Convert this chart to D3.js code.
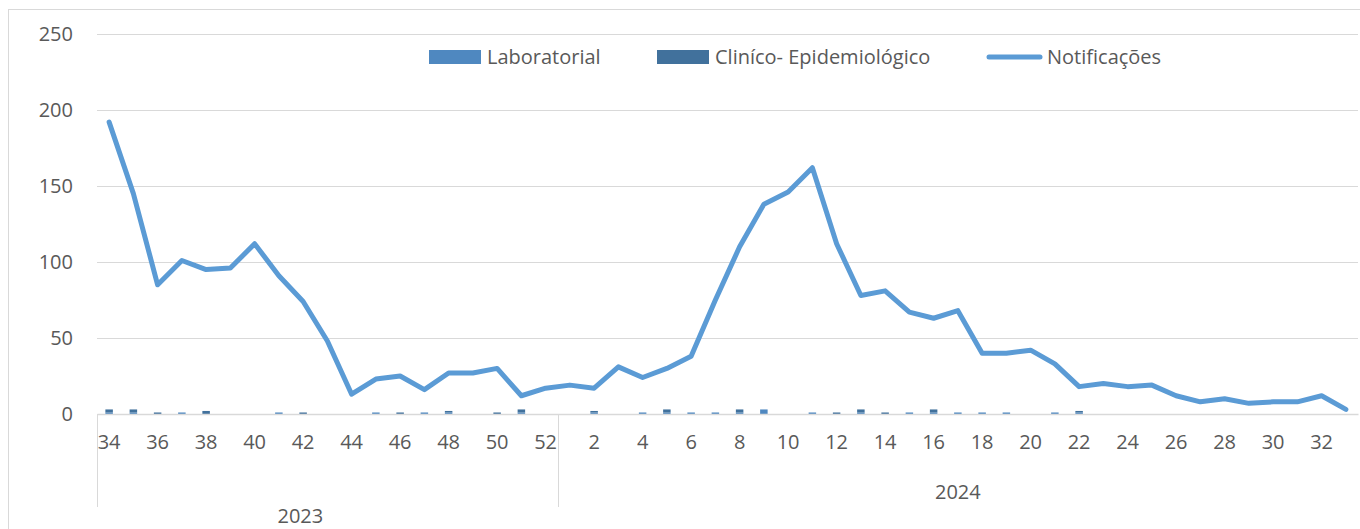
<!DOCTYPE html>
<html>
<head>
<meta charset="utf-8">
<script src="https://cdn.jsdelivr.net/npm/d3@7"></script>
<style>
  body { margin: 0; background: #fff; }
  svg text { font-family: "Open Sans", sans-serif; fill: #595959; }
</style>
</head>
<body>
<div id="chart"></div>
<script>
// epidemiological weeks: 2023 w34..w52 then 2024 w1..w33
const weeks2023 = [34,35,36,37,38,39,40,41,42,43,44,45,46,47,48,49,50,51,52];
const weeks2024 = [1,2,3,4,5,6,7,8,9,10,11,12,13,14,15,16,17,18,19,20,21,22,23,24,25,26,27,28,29,30,31,32,33];
const years = ["2023", "2024"];

const notificacoes = [
  192,145,85,101,95,96,112,91,74,48,13,23,25,16,27,27,30,12,17,
  19,17,31,24,30,38,75,110,138,146,162,112,78,81,67,63,68,40,40,42,33,18,20,18,19,12,8,10,7,8,8,12,3
];
const laboratorial = [
  1,1,0,1,0,0,0,1,0,0,0,1,0,1,1,0,0,1,0,
  0,1,0,1,1,1,1,1,3,0,1,0,1,0,1,1,1,1,1,0,1,1,0,0,0,0,0,0,0,0,0,0,0
];
const clinico = [
  2,2,1,0,2,0,0,0,1,0,0,0,1,0,1,0,1,2,0,
  0,1,0,0,2,0,0,2,0,0,0,1,2,1,0,2,0,0,0,0,0,1,0,0,0,0,0,0,0,0,0,0,0
];
const yTicks = [0, 50, 100, 150, 200, 250];

const W = 1360, H = 529;
const mLeft = 97, mRight = 1358, mTop = 34, mBottom = 414;

const cats = weeks2023.map(w => ({ key: "2023-" + w, week: w, year: "2023" }))
  .concat(weeks2024.map(w => ({ key: "2024-" + w, week: w, year: "2024" })));
cats.forEach((c, i) => { c.lab = laboratorial[i]; c.clin = clinico[i]; c.notif = notificacoes[i]; });

const svg = d3.select("#chart").append("svg")
  .attr("width", W)
  .attr("height", H);

// chart frame
svg.append("rect")
  .attr("x", 8.5).attr("y", 9.5)
  .attr("width", W).attr("height", H)
  .attr("fill", "none").attr("stroke", "#d9d9d9");

const x = d3.scaleBand()
  .domain(cats.map(d => d.key))
  .range([mLeft, mRight]);

const y = d3.scaleLinear()
  .domain([0, 250])
  .range([mBottom, mTop]);

// y axis + gridlines
const yAxis = d3.axisLeft(y)
  .tickValues(yTicks)
  .tickSize(-(mRight - mLeft))
  .tickPadding(24);

const gy = svg.append("g")
  .attr("transform", "translate(" + mLeft + ",0)")
  .call(yAxis);
gy.select(".domain").remove();
gy.selectAll("line").attr("stroke", "#d9d9d9");
gy.selectAll("text").attr("font-size", 20);
gy.selectAll(".tick").filter(d => d === 0).select("line").remove();

// stacked bars
const stack = d3.stack().keys(["lab", "clin"])(cats);
const barColors = { lab: "#4f88c0", clin: "#41719c" };
const bw = 7.5;

svg.append("g").selectAll("g")
  .data(stack)
  .join("g")
  .attr("fill", s => barColors[s.key])
  .selectAll("rect")
  .data(s => s.filter(d => d[1] - d[0] > 0))
  .join("rect")
  .attr("x", d => x(d.data.key) + x.bandwidth() / 2 - bw / 2)
  .attr("y", d => y(d[1]))
  .attr("width", bw)
  .attr("height", d => y(d[0]) - y(d[1]));

// x axis (weeks)
const xAxis = d3.axisBottom(x)
  .tickSize(0)
  .tickPadding(21)
  .tickFormat(k => cats.find(d => d.key === k).week);

const gx = svg.append("g")
  .attr("transform", "translate(0," + mBottom + ")")
  .call(xAxis);
gx.select(".domain").attr("stroke", "#d9d9d9").attr("stroke-width", 1.5);
gx.selectAll(".tick").filter((d, i) => i % 2 !== 0).remove();
gx.selectAll("text").attr("font-size", 20);

// year group separators
const sepX = [mLeft, x("2024-1")];
sepX.forEach(sx => {
  svg.append("line")
    .attr("x1", Math.round(sx) + 0.5).attr("x2", Math.round(sx) + 0.5)
    .attr("y1", mBottom).attr("y2", 507)
    .attr("stroke", "#d9d9d9");
});

// year labels (2023 sits lower and a bit left, as in the source)
const yearPos = { "2023": { dy: 523, dx: -27 }, "2024": { dy: 499, dx: 0 } };
years.forEach(yr => {
  const sub = cats.filter(c => c.year === yr);
  const x0 = x(sub[0].key), x1 = x(sub[sub.length - 1].key) + x.bandwidth();
  svg.append("text")
    .attr("x", (x0 + x1) / 2 + yearPos[yr].dx)
    .attr("y", yearPos[yr].dy)
    .attr("text-anchor", "middle")
    .attr("font-size", 20)
    .text(yr);
});

// notifications line
const line = d3.line()
  .x(d => x(d.key) + x.bandwidth() / 2)
  .y(d => y(d.notif));

svg.append("path")
  .datum(cats)
  .attr("d", line)
  .attr("fill", "none")
  .attr("stroke", "#5b9bd5")
  .attr("stroke-width", 5)
  .attr("stroke-linejoin", "round")
  .attr("stroke-linecap", "round");

// legend
const legend = svg.append("g");
legend.append("rect").attr("x", 429).attr("y", 50).attr("width", 52).attr("height", 14).attr("fill", barColors.lab);
legend.append("text").attr("x", 487).attr("y", 64).attr("font-size", 20).text("Laboratorial");
legend.append("rect").attr("x", 657).attr("y", 50).attr("width", 52).attr("height", 14).attr("fill", barColors.clin);
legend.append("text").attr("x", 715).attr("y", 64).attr("font-size", 20).text("Cliníco- Epidemiológico");
legend.append("line").attr("x1", 989).attr("x2", 1040).attr("y1", 57).attr("y2", 57)
  .attr("stroke", "#5b9bd5").attr("stroke-width", 5).attr("stroke-linecap", "round");
legend.append("text").attr("x", 1047).attr("y", 64).attr("font-size", 20).text("Notificações");
</script>
</body>
</html>
